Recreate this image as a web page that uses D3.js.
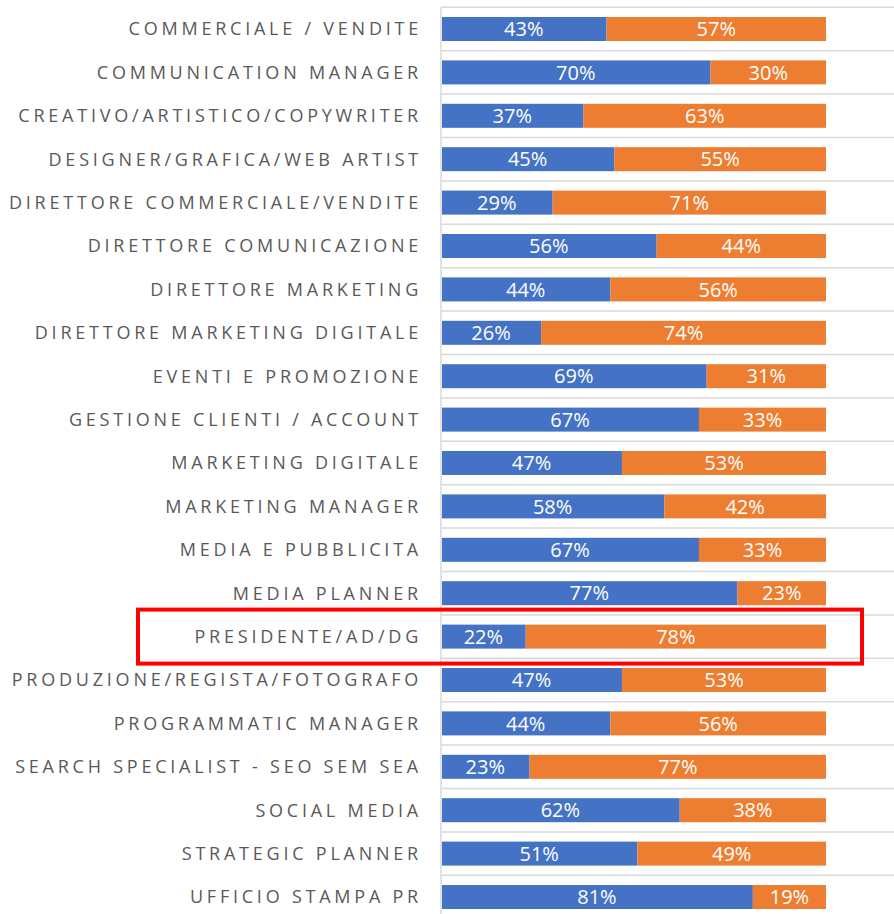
<!DOCTYPE html>
<html>
<head>
<meta charset="utf-8">
<script src="https://cdn.jsdelivr.net/npm/d3@7"></script>
<style>
    body { margin: 0; background: #fff; }
    svg { display: block; }
</style>
</head>
<body>
<div id="chart"></div>
<script>
// Categories (top to bottom)
var categories = [
    "COMMERCIALE / VENDITE",
    "COMMUNICATION MANAGER",
    "CREATIVO/ARTISTICO/COPYWRITER",
    "DESIGNER/GRAFICA/WEB ARTIST",
    "DIRETTORE COMMERCIALE/VENDITE",
    "DIRETTORE COMUNICAZIONE",
    "DIRETTORE MARKETING",
    "DIRETTORE MARKETING DIGITALE",
    "EVENTI E PROMOZIONE",
    "GESTIONE CLIENTI / ACCOUNT",
    "MARKETING DIGITALE",
    "MARKETING MANAGER",
    "MEDIA E PUBBLICITA",
    "MEDIA PLANNER",
    "PRESIDENTE/AD/DG",
    "PRODUZIONE/REGISTA/FOTOGRAFO",
    "PROGRAMMATIC MANAGER",
    "SEARCH SPECIALIST - SEO SEM SEA",
    "SOCIAL MEDIA",
    "STRATEGIC PLANNER",
    "UFFICIO STAMPA PR"
];

// Series values (percent)
var blueValues = [43, 70, 37, 45, 29, 56, 44, 26, 69, 67, 47, 58, 67, 77, 22, 47, 44, 23, 62, 51, 81];
var orangeValues = [57, 30, 63, 55, 71, 44, 56, 74, 31, 33, 53, 42, 33, 23, 78, 53, 56, 77, 38, 49, 19];

var highlighted = "PRESIDENTE/AD/DG";

function init() {
    var w = 894;
    var h = 914;
    var left = 441;
    var right = 826;
    var top = 7.3;
    var rowH = 43.4;

    var svg = d3.select("#chart")
        .append("svg")
        .attr("width", w)
        .attr("height", h);

    var xScale = d3.scaleLinear()
        .domain([0, 100])
        .range([left, right]);

    var yScale = d3.scaleBand()
        .domain(categories)
        .range([top, top + rowH * categories.length])
        .paddingInner(0.447)
        .paddingOuter(0.2235);

    // Horizontal gridlines between categories
    var gridYs = d3.range(categories.length + 1).map(i => top + i * rowH);
    svg.selectAll(".grid")
        .data(gridYs)
        .enter()
        .append("line")
        .attr("class", "grid")
        .attr("x1", left)
        .attr("x2", w)
        .attr("y1", d => d)
        .attr("y2", d => d)
        .attr("stroke", "#d9d9d9")
        .attr("stroke-width", 1.5);

    // Vertical axis line
    svg.append("line")
        .attr("x1", left)
        .attr("x2", left)
        .attr("y1", top)
        .attr("y2", h)
        .attr("stroke", "#d9d9d9")
        .attr("stroke-width", 1.5);

    var rows = categories.map((c, i) => ({ cat: c, blue: blueValues[i], orange: orangeValues[i] }));

    // Blue segments
    svg.selectAll(".blue")
        .data(rows)
        .enter()
        .append("rect")
        .attr("class", "blue")
        .attr("x", xScale(0) + 1)
        .attr("y", d => yScale(d.cat))
        .attr("width", d => xScale(d.blue) - xScale(0) - 1)
        .attr("height", yScale.bandwidth())
        .attr("fill", "#4472c4");

    // Orange segments
    svg.selectAll(".orange")
        .data(rows)
        .enter()
        .append("rect")
        .attr("class", "orange")
        .attr("x", d => xScale(d.blue))
        .attr("y", d => yScale(d.cat))
        .attr("width", d => xScale(d.blue + d.orange) - xScale(d.blue))
        .attr("height", yScale.bandwidth())
        .attr("fill", "#ed7d31");

    // Data labels
    var labelFont = "'Open Sans', sans-serif";
    svg.selectAll(".blueLabel")
        .data(rows)
        .enter()
        .append("text")
        .attr("x", d => (xScale(0) + xScale(d.blue)) / 2)
        .attr("y", d => yScale(d.cat) + yScale.bandwidth() / 2)
        .attr("dy", "0.36em")
        .attr("text-anchor", "middle")
        .attr("fill", "#fff")
        .style("font-family", labelFont)
        .style("font-size", "20px")
        .text(d => d.blue + "%");

    svg.selectAll(".orangeLabel")
        .data(rows)
        .enter()
        .append("text")
        .attr("x", d => (xScale(d.blue) + xScale(d.blue + d.orange)) / 2)
        .attr("y", d => yScale(d.cat) + yScale.bandwidth() / 2)
        .attr("dy", "0.36em")
        .attr("text-anchor", "middle")
        .attr("fill", "#fff")
        .style("font-family", labelFont)
        .style("font-size", "20px")
        .text(d => d.orange + "%");

    // Category labels
    svg.selectAll(".catLabel")
        .data(categories)
        .enter()
        .append("text")
        .attr("class", "catLabel")
        .attr("x", 422)
        .attr("y", d => yScale(d) + yScale.bandwidth() / 2)
        .attr("dy", "0.36em")
        .attr("text-anchor", "end")
        .attr("fill", "#595959")
        .style("font-family", labelFont)
        .style("font-size", "18px")
        .style("letter-spacing", "3.77px")
        .text(d => d);

    // Highlight box
    var hy = yScale(highlighted) + yScale.bandwidth() / 2;
    svg.append("rect")
        .attr("x", 138)
        .attr("y", hy - 27)
        .attr("width", 724)
        .attr("height", 54)
        .attr("fill", "none")
        .attr("stroke", "#ff0000")
        .attr("stroke-width", 4);
}

window.onload = init;
</script>
</body>
</html>
